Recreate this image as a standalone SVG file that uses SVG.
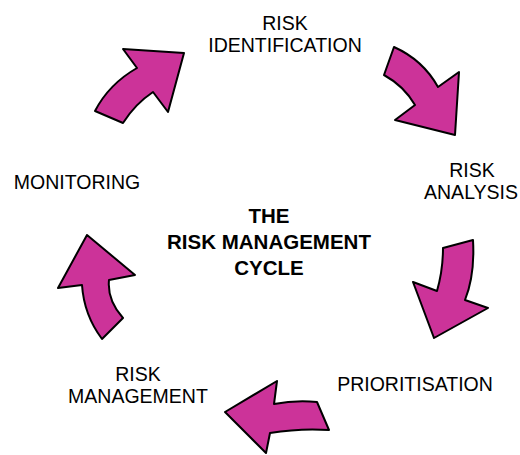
<svg xmlns="http://www.w3.org/2000/svg" width="520" height="455" viewBox="0 0 520 455">
<style>
.arrow{fill:#cc3399;stroke:#000;stroke-width:2;stroke-linejoin:round}
.lbl{font-family:"Liberation Sans",Arial,sans-serif;font-size:19.5px;fill:#000;text-anchor:middle}
.title{font-family:"Liberation Sans",Arial,sans-serif;font-size:20.5px;font-weight:bold;fill:#000;text-anchor:middle}
</style>
<rect width="520" height="455" fill="#fff"/>
<g id="connectors">
<path id="arrow-ident" class="arrow" d="M95,111 Q109,84 137,68 L123,49 L184,53 L168,112 L153,92 Q135,104 123,123 Z"/>
<path id="arrow-analysis" class="arrow" d="M394,47 Q423,60 438,87 L459,72 L455,135 L395,120 L415,105 Q404,86 384,75 Z"/>
<path id="arrow-prior" class="arrow" d="M473,240 Q475,275 465,300 L488,308 L434,338 L413,282 L437,291 Q443,270 443,248 Z"/>
<path id="arrow-mgmt" class="arrow" d="M317,402 Q295,400 274,404 L277,381 L225,412 L266,453 L270,433 Q300,428 329,430 Z"/>
<path id="arrow-monitor" class="arrow" d="M123,318 Q107,300 109,280 L135,275 L87,235 L58,288 L82,285 Q84,315 102,339 Z"/>
</g>
<g id="node-identification"><text class="lbl" x="285" y="30">RISK</text><text class="lbl" x="285" y="52">IDENTIFICATION</text></g>
<g id="node-analysis"><text class="lbl" x="472" y="177">RISK</text><text class="lbl" x="471" y="199">ANALYSIS</text></g>
<g id="node-prioritisation"><text class="lbl" x="415" y="391">PRIORITISATION</text></g>
<g id="node-management"><text class="lbl" x="138" y="381">RISK</text><text class="lbl" x="138" y="403">MANAGEMENT</text></g>
<g id="node-monitoring"><text class="lbl" x="77" y="189">MONITORING</text></g>
<g id="node-title"><text class="title" x="269" y="223">THE</text><text class="title" x="269" y="249">RISK MANAGEMENT</text><text class="title" x="269" y="275">CYCLE</text></g>
</svg>
